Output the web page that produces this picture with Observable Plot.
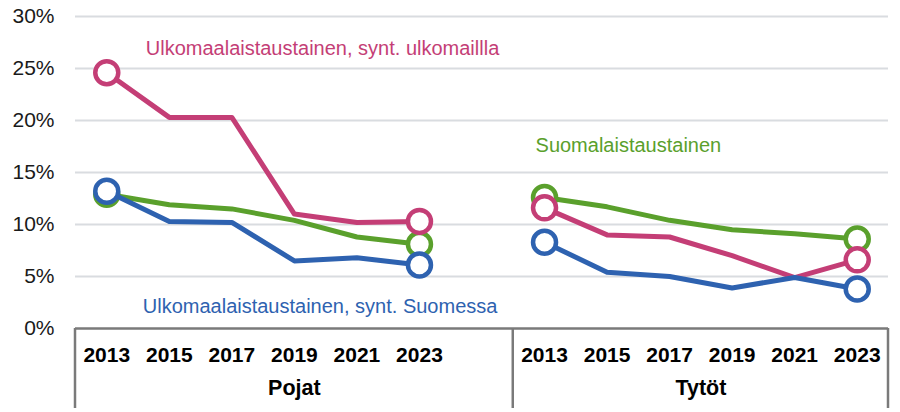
<!DOCTYPE html>
<html>
<head>
<meta charset="utf-8">
<script src="https://cdn.jsdelivr.net/npm/d3@7"></script>
<script src="https://cdn.jsdelivr.net/npm/@observablehq/plot@0.6"></script>
<style>
  html, body { margin: 0; padding: 0; background: #fff; }
  #chart svg { display: block; font-family: "Liberation Sans", Arial, sans-serif; }
</style>
</head>
<body>
<div id="chart"></div>
<script>
// ---- Data ----
const years = [2013, 2015, 2017, 2019, 2021, 2023];
const groups = ["Pojat", "Tytöt"];
const seriesNames = [
  "Suomalaistaustainen",
  "Ulkomaalaistaustainen, synt. ulkomaillla",
  "Ulkomaalaistaustainen, synt. Suomessa"
];
const seriesColors = ["#5AA02C", "#C43E76", "#2E62B0"];

// values in percent, [Pojat, Tytöt]
const suomalais = [
  [12.9, 11.9, 11.5, 10.4, 8.8, 8.1],
  [12.6, 11.7, 10.4, 9.5, 9.1, 8.6]
];
const syntUlkomailla = [
  [24.6, 20.3, 20.3, 11.0, 10.2, 10.3],
  [11.6, 9.0, 8.8, 7.0, 4.9, 6.6]
];
const syntSuomessa = [
  [13.2, 10.3, 10.2, 6.5, 6.8, 6.1],
  [8.3, 5.4, 5.0, 3.9, 4.9, 3.8]
];
const yTicks = [0, 5, 10, 15, 20, 25, 30];

// label anchors (per series): group, year, value in percent
const labelGroup = [1, 0, 0];
const labelYear = [2013, 2013, 2013];
const labelValue = [17.6, 26.9, 2.1];
const labelDx = [-9, 39, 36];

// ---- Build table ----
const slotsPerGroup = years.length + 1; // one empty slot between groups
const slotOf = (gi, yi) => gi * slotsPerGroup + yi;
const seriesValues = [suomalais, syntUlkomailla, syntSuomessa];
const rows = [];
seriesValues.forEach((sv, si) => {
  groups.forEach((g, gi) => {
    years.forEach((yr, yi) => {
      rows.push({series: seriesNames[si], si, group: g, gi, year: yr, yi,
                 slot: slotOf(gi, yi), value: sv[gi][yi] / 100,
                 key: seriesNames[si] + "|" + g});
    });
  });
});
const nSlots = slotsPerGroup * groups.length - 1;
const tickSlots = [];
const tickLabel = new Map();
groups.forEach((g, gi) => years.forEach((yr, yi) => {
  tickSlots.push(slotOf(gi, yi)); tickLabel.set(slotOf(gi, yi), String(yr));
}));
const groupCenters = groups.map((g, gi) =>
  gi === 0 ? (slotOf(0, 0) - 0.5 + slotOf(0, years.length - 1) + 1.5) / 2
           : (slotOf(gi, 0) - 0.5 + slotOf(gi, years.length - 1) + 0.5) / 2);
const boundaries = [-0.5].concat(groups.map((g, gi) => slotOf(gi, years.length - 1) + (gi === 0 ? 1.5 : 0.5)));
const labels = seriesNames.map((n, i) => ({
  text: n, color: seriesColors[i],
  slot: slotOf(labelGroup[i], years.indexOf(labelYear[i])),
  value: labelValue[i] / 100, dx: labelDx[i]
}));

const endDots = rows.filter(d => d.yi === 0 || d.yi === years.length - 1);

// custom mark: group separators extending below axis
function separators(index, scales, values, dims) {
  const g = d3.create("svg:g");
  const y0 = scales.y(0);
  for (const b of boundaries) {
    g.append("line")
      .attr("x1", scales.x(b)).attr("x2", scales.x(b))
      .attr("y1", y0).attr("y2", dims.height - 4)
      .attr("stroke", "#7a7a7a").attr("stroke-width", 2.5);
  }
  return g.node();
}

const marks = [
  Plot.ruleY(yTicks.filter(t => t > 0).map(t => t / 100), {stroke: "#d9dce0", strokeWidth: 2}),
  Plot.axisY(yTicks.map(t => t / 100), {
    tickFormat: d3.format(".0%"), tickSize: 0, tickPadding: 21,
    fontSize: 21, fill: "#1a1a1a", label: null
  }),
  Plot.axisX(tickSlots, {
    tickFormat: d => tickLabel.get(d), tickSize: 0, tickPadding: 19,
    fontSize: 21, fontWeight: "bold", fill: "#000", label: null
  }),
  Plot.ruleY([0], {stroke: "#7a7a7a", strokeWidth: 2.5}),
  separators,
  Plot.text(groups, {
    x: (d, i) => groupCenters[i], text: d => d, frameAnchor: "bottom", dy: 66,
    fontSize: 21.5, fontWeight: "bold", fill: "#000"
  })
];
seriesNames.forEach((n, si) => {
  marks.push(Plot.line(rows.filter(d => d.si === si), {
    x: "slot", y: "value", z: "key", stroke: seriesColors[si],
    strokeWidth: 5, strokeLinejoin: "round", strokeLinecap: "round"
  }));
  marks.push(Plot.dot(endDots.filter(d => d.si === si), {
    x: "slot", y: "value", r: 11.5, fill: "white",
    stroke: seriesColors[si], strokeWidth: 4.5
  }));
});
marks.push(Plot.text(labels, {
  x: "slot", y: "value", text: "text", fill: "color",
  textAnchor: "start", fontSize: 20
}));

const chart = Plot.plot({
  width: 900, height: 412,
  marginLeft: 75, marginRight: 12, marginTop: 16, marginBottom: 84,
  x: {type: "linear", domain: [-0.5, nSlots - 0.5], axis: null},
  y: {domain: [0, 0.30], axis: null},
  style: {fontFamily: "Liberation Sans, Arial, sans-serif", background: "white"},
  marks
});
document.getElementById("chart").appendChild(chart);
// apply per-label dx offsets
const textNodes = chart.querySelectorAll("g[aria-label='text']");
const lastText = textNodes[textNodes.length - 1];
if (lastText) {
  lastText.querySelectorAll("text").forEach((t, i) => {
    t.setAttribute("dx", labels[i].dx);
  });
}
</script>
</body>
</html>
